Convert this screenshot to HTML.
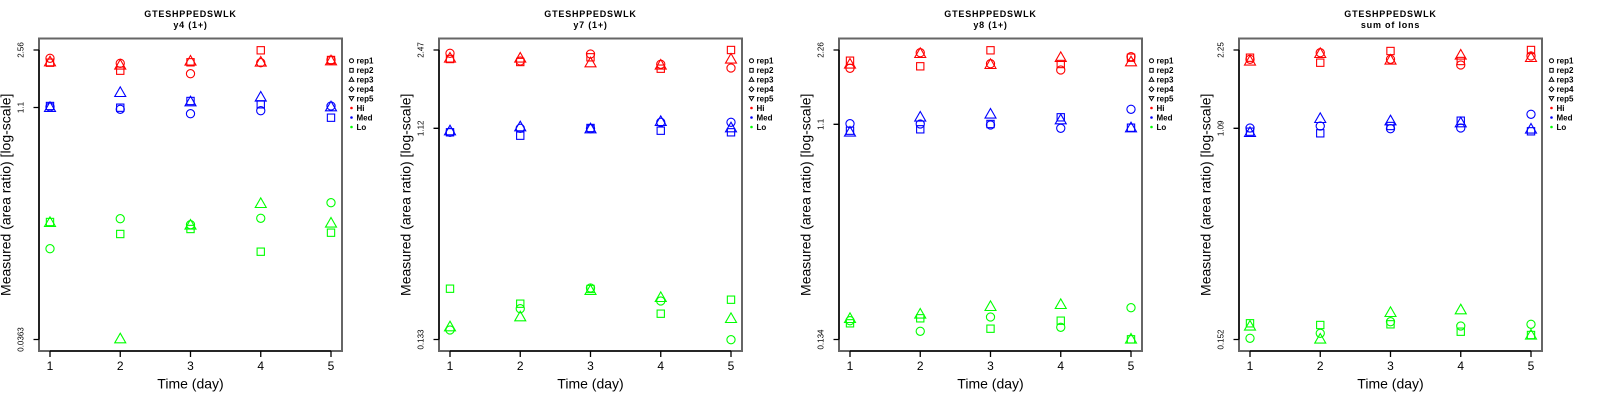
<!DOCTYPE html>
<html><head><meta charset="utf-8"><style>
html,body{margin:0;padding:0;background:#fff;}
svg{display:block;font-family:"Liberation Sans",Arial,sans-serif;}
</style></head><body>
<svg width="1600" height="400" viewBox="0 0 1600 400" xmlns="http://www.w3.org/2000/svg">
<defs>
<circle id="c" r="4.1"/>
<rect id="s" x="-3.65" y="-3.65" width="7.3" height="7.3"/>
<path id="t" d="M0,-6.4L5.5,3.2L-5.5,3.2Z"/>
</defs>
<rect width="1600" height="400" fill="#fff"/>

<!-- PANEL 1 -->
<g transform="translate(0,0)">
<text x="190.5" y="16.8" font-size="9" font-weight="bold" letter-spacing="0.8" text-anchor="middle">GTESHPPEDSWLK</text>
<text x="190.5" y="27.8" font-size="9" font-weight="bold" letter-spacing="0.8" text-anchor="middle">y4 (1+)</text>
<rect x="39" y="38.5" width="303" height="312.5" fill="none" stroke="#666" stroke-width="2"/>
<path d="M39,50V339.5M39,50H33.5M39,107.5H33.5M39,339.5H33.5M50,351H331M50,351V357M120.25,351V357M190.5,351V357M260.75,351V357M331,351V357" stroke="#000" stroke-width="1.3" fill="none"/>
<g font-size="8" text-anchor="middle">
<text x="23.5" y="50" transform="rotate(-90 23.5 50)">2.56</text>
<text x="23.5" y="107.5" transform="rotate(-90 23.5 107.5)">1.1</text>
<text x="23.5" y="339.5" transform="rotate(-90 23.5 339.5)">0.0363</text>
</g>
<g font-size="12" text-anchor="middle">
<text x="50" y="370">1</text><text x="120.25" y="370">2</text><text x="190.5" y="370">3</text><text x="260.75" y="370">4</text><text x="331" y="370">5</text>
</g>
<text x="190.5" y="388.5" font-size="14" text-anchor="middle">Time (day)</text>
<text x="10.3" y="194.8" font-size="14" text-anchor="middle" transform="rotate(-90 10.3 194.8)">Measured (area ratio) [log-scale]</text>
<g fill="none" stroke="#f00" stroke-width="1.1">
<use href="#c" x="50" y="58.3"/><use href="#t" x="50" y="62.6"/><use href="#s" x="50" y="62.7"/>
<use href="#c" x="120.25" y="63.3"/><use href="#t" x="120.25" y="65.9"/><use href="#s" x="120.25" y="70.7"/>
<use href="#t" x="190.5" y="61.9"/><use href="#s" x="190.5" y="62.3"/><use href="#c" x="190.5" y="73.7"/>
<use href="#s" x="260.75" y="50.3"/><use href="#t" x="260.75" y="62.9"/><use href="#c" x="260.75" y="62.7"/>
<use href="#c" x="331" y="60"/><use href="#s" x="331" y="60"/><use href="#t" x="331" y="61.6"/>
</g>
<g fill="none" stroke="#00f" stroke-width="1.1">
<use href="#s" x="50" y="106"/><use href="#c" x="50" y="107"/><use href="#t" x="50" y="108.3"/>
<use href="#t" x="120.25" y="93.3"/><use href="#s" x="120.25" y="107.7"/><use href="#c" x="120.25" y="109.3"/>
<use href="#s" x="190.5" y="101"/><use href="#t" x="190.5" y="102.6"/><use href="#c" x="190.5" y="113.7"/>
<use href="#t" x="260.75" y="97.9"/><use href="#s" x="260.75" y="104.3"/><use href="#c" x="260.75" y="110.7"/>
<use href="#c" x="331" y="106"/><use href="#t" x="331" y="107.6"/><use href="#s" x="331" y="117.7"/>
</g>
<g fill="none" stroke="#0f0" stroke-width="1.1">
<use href="#t" x="50" y="223.3"/><use href="#s" x="50" y="222"/><use href="#c" x="50" y="248.7"/>
<use href="#c" x="120.25" y="218.7"/><use href="#s" x="120.25" y="234"/><use href="#t" x="120.25" y="339.6"/>
<use href="#t" x="190.5" y="225.9"/><use href="#c" x="190.5" y="224.7"/><use href="#s" x="190.5" y="229"/>
<use href="#t" x="260.75" y="204.3"/><use href="#c" x="260.75" y="218.3"/><use href="#s" x="260.75" y="251.7"/>
<use href="#c" x="331" y="202.7"/><use href="#t" x="331" y="223.9"/><use href="#s" x="331" y="232.7"/>
</g>
<g stroke="#000" stroke-width="1" fill="none">
<circle cx="351.5" cy="60.7" r="2"/>
<rect x="349.8" y="68.4" width="3.4" height="3.8"/>
<path d="M351.5,77.3L353.8,81.2L349.2,81.2Z"/>
<path d="M351.5,86.8L353.8,89.2L351.5,91.6L349.2,89.2Z"/>
<path d="M351.5,100.5L353.8,96.6L349.2,96.6Z"/>
</g>
<circle cx="351.5" cy="108" r="1.3" fill="#f00"/>
<circle cx="351.5" cy="117.5" r="1.3" fill="#00f"/>
<circle cx="351.5" cy="127" r="1.3" fill="#0f0"/>
<g font-size="8" font-weight="bold">
<text x="356.5" y="63.5">rep1</text><text x="356.5" y="73">rep2</text><text x="356.5" y="82.5">rep3</text><text x="356.5" y="92">rep4</text><text x="356.5" y="101.5">rep5</text><text x="356.5" y="111">Hi</text><text x="356.5" y="120.5">Med</text><text x="356.5" y="130">Lo</text>
</g>
</g>

<!-- PANEL 2 -->
<g transform="translate(400,0)">
<text x="190.5" y="16.8" font-size="9" font-weight="bold" letter-spacing="0.8" text-anchor="middle">GTESHPPEDSWLK</text>
<text x="190.5" y="27.8" font-size="9" font-weight="bold" letter-spacing="0.8" text-anchor="middle">y7 (1+)</text>
<rect x="39" y="38.5" width="303" height="312.5" fill="none" stroke="#666" stroke-width="2"/>
<path d="M39,50V339.5M39,50H33.5M39,128.3H33.5M39,339.5H33.5M50,351H331M50,351V357M120.25,351V357M190.5,351V357M260.75,351V357M331,351V357" stroke="#000" stroke-width="1.3" fill="none"/>
<g font-size="8" text-anchor="middle">
<text x="23.5" y="50" transform="rotate(-90 23.5 50)">2.47</text>
<text x="23.5" y="128.3" transform="rotate(-90 23.5 128.3)">1.12</text>
<text x="23.5" y="339.5" transform="rotate(-90 23.5 339.5)">0.133</text>
</g>
<g font-size="12" text-anchor="middle">
<text x="50" y="370">1</text><text x="120.25" y="370">2</text><text x="190.5" y="370">3</text><text x="260.75" y="370">4</text><text x="331" y="370">5</text>
</g>
<text x="190.5" y="388.5" font-size="14" text-anchor="middle">Time (day)</text>
<text x="10.3" y="194.8" font-size="14" text-anchor="middle" transform="rotate(-90 10.3 194.8)">Measured (area ratio) [log-scale]</text>
<g fill="none" stroke="#f00" stroke-width="1.1">
<use href="#c" x="50" y="53.3"/><use href="#t" x="50" y="58.9"/><use href="#s" x="50" y="59"/>
<use href="#t" x="120.25" y="58.9"/><use href="#c" x="120.25" y="61"/><use href="#s" x="120.25" y="62"/>
<use href="#c" x="190.5" y="54"/><use href="#s" x="190.5" y="57.3"/><use href="#t" x="190.5" y="63.6"/>
<use href="#c" x="260.75" y="64.3"/><use href="#t" x="260.75" y="65.9"/><use href="#s" x="260.75" y="68.7"/>
<use href="#s" x="331" y="50"/><use href="#t" x="331" y="59.9"/><use href="#c" x="331" y="68"/>
</g>
<g fill="none" stroke="#00f" stroke-width="1.1">
<use href="#c" x="50" y="132.3"/><use href="#t" x="50" y="131.6"/><use href="#s" x="50" y="132.3"/>
<use href="#t" x="120.25" y="127.6"/><use href="#c" x="120.25" y="128.3"/><use href="#s" x="120.25" y="135.7"/>
<use href="#s" x="190.5" y="128"/><use href="#t" x="190.5" y="129.6"/><use href="#c" x="190.5" y="128.7"/>
<use href="#t" x="260.75" y="122.3"/><use href="#c" x="260.75" y="122.3"/><use href="#s" x="260.75" y="130.7"/>
<use href="#c" x="331" y="122.3"/><use href="#t" x="331" y="128.6"/><use href="#s" x="331" y="132.3"/>
</g>
<g fill="none" stroke="#0f0" stroke-width="1.1">
<use href="#s" x="50" y="288.7"/><use href="#t" x="50" y="327.6"/><use href="#c" x="50" y="330"/>
<use href="#s" x="120.25" y="303.7"/><use href="#c" x="120.25" y="308.7"/><use href="#t" x="120.25" y="317.6"/>
<use href="#c" x="190.5" y="288"/><use href="#s" x="190.5" y="289"/><use href="#t" x="190.5" y="291.3"/>
<use href="#t" x="260.75" y="298.3"/><use href="#c" x="260.75" y="301"/><use href="#s" x="260.75" y="313.7"/>
<use href="#s" x="331" y="299.7"/><use href="#t" x="331" y="319.3"/><use href="#c" x="331" y="339.7"/>
</g>
<g stroke="#000" stroke-width="1" fill="none">
<circle cx="351.5" cy="60.7" r="2"/>
<rect x="349.8" y="68.4" width="3.4" height="3.8"/>
<path d="M351.5,77.3L353.8,81.2L349.2,81.2Z"/>
<path d="M351.5,86.8L353.8,89.2L351.5,91.6L349.2,89.2Z"/>
<path d="M351.5,100.5L353.8,96.6L349.2,96.6Z"/>
</g>
<circle cx="351.5" cy="108" r="1.3" fill="#f00"/>
<circle cx="351.5" cy="117.5" r="1.3" fill="#00f"/>
<circle cx="351.5" cy="127" r="1.3" fill="#0f0"/>
<g font-size="8" font-weight="bold">
<text x="356.5" y="63.5">rep1</text><text x="356.5" y="73">rep2</text><text x="356.5" y="82.5">rep3</text><text x="356.5" y="92">rep4</text><text x="356.5" y="101.5">rep5</text><text x="356.5" y="111">Hi</text><text x="356.5" y="120.5">Med</text><text x="356.5" y="130">Lo</text>
</g>
</g>

<!-- PANEL 3 -->
<g transform="translate(800,0)">
<text x="190.5" y="16.8" font-size="9" font-weight="bold" letter-spacing="0.8" text-anchor="middle">GTESHPPEDSWLK</text>
<text x="190.5" y="27.8" font-size="9" font-weight="bold" letter-spacing="0.8" text-anchor="middle">y8 (1+)</text>
<rect x="39" y="38.5" width="303" height="312.5" fill="none" stroke="#666" stroke-width="2"/>
<path d="M39,50V339.5M39,50H33.5M39,124.3H33.5M39,339.5H33.5M50,351H331M50,351V357M120.25,351V357M190.5,351V357M260.75,351V357M331,351V357" stroke="#000" stroke-width="1.3" fill="none"/>
<g font-size="8" text-anchor="middle">
<text x="23.5" y="50" transform="rotate(-90 23.5 50)">2.26</text>
<text x="23.5" y="124.3" transform="rotate(-90 23.5 124.3)">1.1</text>
<text x="23.5" y="339.5" transform="rotate(-90 23.5 339.5)">0.134</text>
</g>
<g font-size="12" text-anchor="middle">
<text x="50" y="370">1</text><text x="120.25" y="370">2</text><text x="190.5" y="370">3</text><text x="260.75" y="370">4</text><text x="331" y="370">5</text>
</g>
<text x="190.5" y="388.5" font-size="14" text-anchor="middle">Time (day)</text>
<text x="10.3" y="194.8" font-size="14" text-anchor="middle" transform="rotate(-90 10.3 194.8)">Measured (area ratio) [log-scale]</text>
<g fill="none" stroke="#f00" stroke-width="1.1">
<use href="#s" x="50" y="60.7"/><use href="#t" x="50" y="64.9"/><use href="#c" x="50" y="68.3"/>
<use href="#c" x="120.25" y="52.7"/><use href="#t" x="120.25" y="54.3"/><use href="#s" x="120.25" y="66.3"/>
<use href="#s" x="190.5" y="50.3"/><use href="#c" x="190.5" y="63.7"/><use href="#t" x="190.5" y="65.3"/>
<use href="#t" x="260.75" y="58.3"/><use href="#s" x="260.75" y="64"/><use href="#c" x="260.75" y="70"/>
<use href="#c" x="331" y="56.7"/><use href="#s" x="331" y="57.7"/><use href="#t" x="331" y="62.6"/>
</g>
<g fill="none" stroke="#00f" stroke-width="1.1">
<use href="#c" x="50" y="123.7"/><use href="#s" x="50" y="130.7"/><use href="#t" x="50" y="132.9"/>
<use href="#t" x="120.25" y="117.9"/><use href="#c" x="120.25" y="124"/><use href="#s" x="120.25" y="129.3"/>
<use href="#t" x="190.5" y="114.9"/><use href="#s" x="190.5" y="124"/><use href="#c" x="190.5" y="125"/>
<use href="#s" x="260.75" y="117.3"/><use href="#t" x="260.75" y="120.6"/><use href="#c" x="260.75" y="128.3"/>
<use href="#c" x="331" y="109.3"/><use href="#t" x="331" y="128.6"/><use href="#s" x="331" y="127.7"/>
</g>
<g fill="none" stroke="#0f0" stroke-width="1.1">
<use href="#t" x="50" y="319.3"/><use href="#c" x="50" y="320.7"/><use href="#s" x="50" y="323.3"/>
<use href="#t" x="120.25" y="314.9"/><use href="#s" x="120.25" y="318.3"/><use href="#c" x="120.25" y="331.3"/>
<use href="#t" x="190.5" y="307.3"/><use href="#c" x="190.5" y="317"/><use href="#s" x="190.5" y="328.7"/>
<use href="#t" x="260.75" y="305.3"/><use href="#s" x="260.75" y="320.7"/><use href="#c" x="260.75" y="327.3"/>
<use href="#c" x="331" y="307.7"/><use href="#t" x="331" y="339.9"/><use href="#s" x="331" y="339.3"/>
</g>
<g stroke="#000" stroke-width="1" fill="none">
<circle cx="351.5" cy="60.7" r="2"/>
<rect x="349.8" y="68.4" width="3.4" height="3.8"/>
<path d="M351.5,77.3L353.8,81.2L349.2,81.2Z"/>
<path d="M351.5,86.8L353.8,89.2L351.5,91.6L349.2,89.2Z"/>
<path d="M351.5,100.5L353.8,96.6L349.2,96.6Z"/>
</g>
<circle cx="351.5" cy="108" r="1.3" fill="#f00"/>
<circle cx="351.5" cy="117.5" r="1.3" fill="#00f"/>
<circle cx="351.5" cy="127" r="1.3" fill="#0f0"/>
<g font-size="8" font-weight="bold">
<text x="356.5" y="63.5">rep1</text><text x="356.5" y="73">rep2</text><text x="356.5" y="82.5">rep3</text><text x="356.5" y="92">rep4</text><text x="356.5" y="101.5">rep5</text><text x="356.5" y="111">Hi</text><text x="356.5" y="120.5">Med</text><text x="356.5" y="130">Lo</text>
</g>
</g>

<!-- PANEL 4 -->
<g transform="translate(1200,0)">
<text x="190.5" y="16.8" font-size="9" font-weight="bold" letter-spacing="0.8" text-anchor="middle">GTESHPPEDSWLK</text>
<text x="190.5" y="27.8" font-size="9" font-weight="bold" letter-spacing="0.8" text-anchor="middle">sum of Ions</text>
<rect x="39" y="38.5" width="303" height="312.5" fill="none" stroke="#666" stroke-width="2"/>
<path d="M39,50V339.5M39,50H33.5M39,128.3H33.5M39,339.5H33.5M50,351H331M50,351V357M120.25,351V357M190.5,351V357M260.75,351V357M331,351V357" stroke="#000" stroke-width="1.3" fill="none"/>
<g font-size="8" text-anchor="middle">
<text x="23.5" y="50" transform="rotate(-90 23.5 50)">2.25</text>
<text x="23.5" y="128.3" transform="rotate(-90 23.5 128.3)">1.09</text>
<text x="23.5" y="339.5" transform="rotate(-90 23.5 339.5)">0.152</text>
</g>
<g font-size="12" text-anchor="middle">
<text x="50" y="370">1</text><text x="120.25" y="370">2</text><text x="190.5" y="370">3</text><text x="260.75" y="370">4</text><text x="331" y="370">5</text>
</g>
<text x="190.5" y="388.5" font-size="14" text-anchor="middle">Time (day)</text>
<text x="10.3" y="194.8" font-size="14" text-anchor="middle" transform="rotate(-90 10.3 194.8)">Measured (area ratio) [log-scale]</text>
<g fill="none" stroke="#f00" stroke-width="1.1">
<use href="#s" x="50" y="57.7"/><use href="#c" x="50" y="59.3"/><use href="#t" x="50" y="61.9"/>
<use href="#c" x="120.25" y="52.7"/><use href="#t" x="120.25" y="54.3"/><use href="#s" x="120.25" y="62.7"/>
<use href="#s" x="190.5" y="51"/><use href="#c" x="190.5" y="59.3"/><use href="#t" x="190.5" y="60.9"/>
<use href="#t" x="260.75" y="55.9"/><use href="#s" x="260.75" y="61"/><use href="#c" x="260.75" y="65"/>
<use href="#s" x="331" y="50"/><use href="#c" x="331" y="56"/><use href="#t" x="331" y="58.3"/>
</g>
<g fill="none" stroke="#00f" stroke-width="1.1">
<use href="#c" x="50" y="128"/><use href="#t" x="50" y="133.3"/><use href="#s" x="50" y="131.7"/>
<use href="#t" x="120.25" y="119.3"/><use href="#c" x="120.25" y="126"/><use href="#s" x="120.25" y="133.3"/>
<use href="#t" x="190.5" y="121.6"/><use href="#s" x="190.5" y="126"/><use href="#c" x="190.5" y="128.7"/>
<use href="#s" x="260.75" y="120.7"/><use href="#t" x="260.75" y="123.6"/><use href="#c" x="260.75" y="128"/>
<use href="#c" x="331" y="114.3"/><use href="#t" x="331" y="129.9"/><use href="#s" x="331" y="131.3"/>
</g>
<g fill="none" stroke="#0f0" stroke-width="1.1">
<use href="#s" x="50" y="323.3"/><use href="#t" x="50" y="326.9"/><use href="#c" x="50" y="338.3"/>
<use href="#s" x="120.25" y="325"/><use href="#c" x="120.25" y="333.3"/><use href="#t" x="120.25" y="339.9"/>
<use href="#t" x="190.5" y="313.3"/><use href="#c" x="190.5" y="321.7"/><use href="#s" x="190.5" y="324.3"/>
<use href="#t" x="260.75" y="310.6"/><use href="#c" x="260.75" y="326"/><use href="#s" x="260.75" y="331.7"/>
<use href="#c" x="331" y="324.3"/><use href="#t" x="331" y="335.9"/><use href="#s" x="331" y="335"/>
</g>
<g stroke="#000" stroke-width="1" fill="none">
<circle cx="351.5" cy="60.7" r="2"/>
<rect x="349.8" y="68.4" width="3.4" height="3.8"/>
<path d="M351.5,77.3L353.8,81.2L349.2,81.2Z"/>
<path d="M351.5,86.8L353.8,89.2L351.5,91.6L349.2,89.2Z"/>
<path d="M351.5,100.5L353.8,96.6L349.2,96.6Z"/>
</g>
<circle cx="351.5" cy="108" r="1.3" fill="#f00"/>
<circle cx="351.5" cy="117.5" r="1.3" fill="#00f"/>
<circle cx="351.5" cy="127" r="1.3" fill="#0f0"/>
<g font-size="8" font-weight="bold">
<text x="356.5" y="63.5">rep1</text><text x="356.5" y="73">rep2</text><text x="356.5" y="82.5">rep3</text><text x="356.5" y="92">rep4</text><text x="356.5" y="101.5">rep5</text><text x="356.5" y="111">Hi</text><text x="356.5" y="120.5">Med</text><text x="356.5" y="130">Lo</text>
</g>
</g>
</svg>
</body></html>
